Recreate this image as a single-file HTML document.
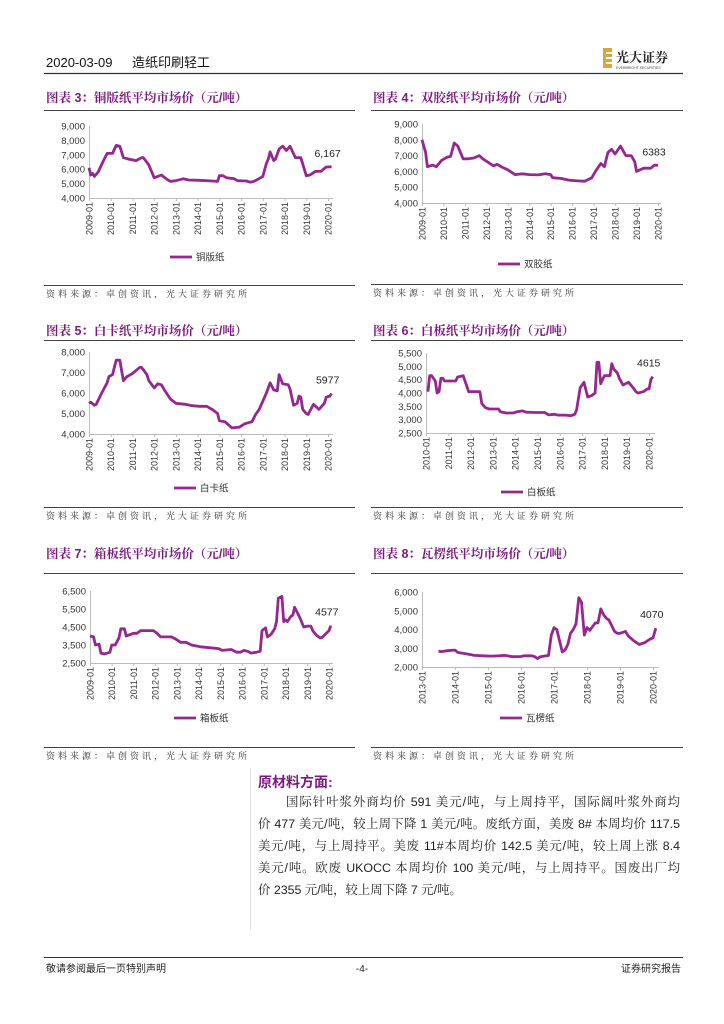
<!DOCTYPE html>
<html><head><meta charset="utf-8">
<style>
html,body{margin:0;padding:0;background:#fff;}
body{width:724px;height:1024px;position:relative;overflow:hidden;font-family:"Liberation Sans","Noto Sans CJK SC",sans-serif;}
svg{position:absolute;left:0;top:0;}
.para{position:absolute;left:258px;width:422px;font-size:12.4px;color:#222;font-family:"Liberation Sans","Noto Serif CJK SC",serif;}
.ln{height:22px;line-height:22px;text-align:justify;text-align-last:justify;white-space:nowrap;overflow:hidden;}
</style></head><body>
<svg id="pg" width="724" height="1024" viewBox="0 0 724 1024">
  <g>
    <text x="46" y="67" font-size="13" fill="#111">2020-03-09</text>
    <text x="132" y="67" font-size="13" fill="#111">造纸印刷轻工</text>
    <line x1="44" y1="73.5" x2="683" y2="73.5" stroke="#333" stroke-width="1.2"/>
    <g>
      <rect x="603" y="48" width="9" height="20" fill="#d9a63a"/>
      <rect x="606" y="52" width="7" height="2" fill="#fff"/><rect x="606" y="57" width="7" height="2" fill="#fff"/><rect x="606" y="62" width="7" height="2" fill="#fff"/>
      <text x="616" y="62" font-size="13" font-weight="bold" fill="#222" font-family="'Noto Serif CJK SC',serif">光大证券</text>
      <text x="616" y="69" font-size="3.5" fill="#444">EVERBRIGHT SECURITIES</text>
    </g>
  </g>
  <g id="charts"></g>
  <g><line x1="250.5" y1="768" x2="250.5" y2="930" stroke="#ddd" stroke-width="1"/></g>
  <text x="258" y="787" font-size="14" font-weight="bold" fill="#7b1a7e">原材料方面:</text>
  <g>
    <line x1="44" y1="957.5" x2="683" y2="957.5" stroke="#333" stroke-width="1"/>
    <text x="46" y="972" font-size="10" fill="#222">敬请参阅最后一页特别声明</text>
    <text x="362" y="972" font-size="10" fill="#222" text-anchor="middle">-4-</text>
    <text x="681" y="972" font-size="10" fill="#222" text-anchor="end">证券研究报告</text>
  </g>
</svg>
<div class="para" style="top:791px">
  <div class="ln" style="padding-left:28px">国际针叶浆外商均价 591 美元/吨，与上周持平，国际阔叶浆外商均</div>
  <div class="ln">价 477 美元/吨，较上周下降 1 美元/吨。废纸方面，美废 8# 本周均价 117.5</div>
  <div class="ln">美元/吨，与上周持平。美废 11#本周均价 142.5 美元/吨，较上周上涨 8.4</div>
  <div class="ln">美元/吨。欧废 UKOCC 本周均价 100 美元/吨，与上周持平。国废出厂均</div>
  <div class="ln" style="text-align-last:left">价 2355 元/吨，较上周下降 7 元/吨。</div>
</div>
<script>
// ---- data ----
const c3Dates=["2009-01","2009-02","2009-03","2009-04","2009-06","2009-09","2009-11","2010-02","2010-04","2010-06","2010-08","2010-11","2011-03","2011-06","2011-07","2011-10","2012-01","2012-05","2012-08","2012-10","2013-01","2013-05","2013-08","2014-02","2014-09","2014-12","2015-01","2015-03","2015-05","2015-09","2015-11","2016-04","2016-06","2016-08","2016-11","2017-01","2017-03","2017-04","2017-05","2017-07","2017-08","2017-10","2017-12","2018-02","2018-04","2018-07","2018-10","2019-01","2019-03","2019-06","2019-09","2019-12","2020-03"];
const c3Values=[6100,5600,5700,5500,5800,6600,7100,7100,7650,7600,6800,6700,6600,6800,6800,6300,5400,5600,5300,5150,5200,5330,5250,5230,5180,5150,5550,5550,5400,5350,5200,5180,5100,5150,5350,5500,6400,6700,7200,6600,6700,7400,7600,7300,7600,6800,6800,5550,5600,5850,5850,6150,6167];
const c3YTicks=[4000,5000,6000,7000,8000,9000];
const c3YLabels=["4,000","5,000","6,000","7,000","8,000","9,000"];
const c3XTicks=["2009-01","2010-01","2011-01","2012-01","2013-01","2014-01","2015-01","2016-01","2017-01","2018-01","2019-01","2020-01"];

const c4Dates=["2009-01","2009-03","2009-04","2009-07","2009-09","2009-12","2010-03","2010-05","2010-07","2010-09","2010-12","2011-03","2011-06","2011-09","2011-11","2012-03","2012-05","2012-07","2012-10","2013-01","2013-05","2013-09","2014-01","2014-06","2014-10","2015-01","2015-02","2015-07","2015-11","2016-04","2016-08","2016-12","2017-02","2017-05","2017-07","2017-09","2017-11","2018-01","2018-04","2018-07","2018-10","2018-12","2019-01","2019-05","2019-09","2019-11","2020-01"];
const c4Values=[8000,7200,6300,6400,6300,6700,6900,6950,7800,7600,6800,6800,6850,7000,6800,6500,6350,6450,6250,6100,5800,5850,5800,5780,5850,5800,5600,5550,5450,5400,5380,5600,6000,6500,6300,7200,7400,7100,7600,7000,7000,6600,6000,6200,6200,6400,6383];
const c4YTicks=[4000,5000,6000,7000,8000,9000];
const c4YLabels=["4,000","5,000","6,000","7,000","8,000","9,000"];
const c4XTicks=c3XTicks;

const c5Dates=["2009-01","2009-02","2009-04","2009-05","2009-08","2009-11","2009-12","2010-02","2010-04","2010-06","2010-08","2010-10","2011-01","2011-05","2011-06","2011-09","2011-10","2012-01","2012-03","2012-05","2012-07","2012-10","2013-01","2013-06","2013-10","2014-02","2014-06","2014-09","2014-12","2015-01","2015-04","2015-08","2015-12","2016-03","2016-07","2016-09","2016-11","2017-03","2017-05","2017-07","2017-09","2017-10","2017-12","2018-03","2018-04","2018-06","2018-08","2018-09","2018-10","2018-11","2019-01","2019-02","2019-05","2019-08","2019-11","2019-12","2020-02","2020-03"];
const c5Values=[5500,5550,5400,5450,6000,6500,6800,6900,7600,7600,6600,6800,6950,7250,7250,6900,6600,6250,6450,6400,6100,5700,5500,5450,5380,5350,5350,5200,5000,4650,4600,4300,4330,4500,4600,4950,5200,6000,6500,6150,6100,6900,6450,6400,6200,5400,5500,5850,5800,5200,5000,4950,5450,5200,5500,5800,5850,5977];
const c5YTicks=[4000,5000,6000,7000,8000];
const c5YLabels=["4,000","5,000","6,000","7,000","8,000"];
const c5XTicks=c3XTicks;

const c6Dates=["2010-02","2010-03","2010-04","2010-06","2010-07","2010-08","2010-09","2010-10","2010-11","2011-05","2011-06","2011-09","2011-12","2012-06","2012-07","2012-09","2012-11","2013-04","2013-05","2013-08","2013-12","2014-02","2014-05","2014-07","2014-12","2015-05","2015-07","2015-10","2015-12","2016-04","2016-07","2016-09","2016-10","2016-12","2017-02","2017-04","2017-06","2017-08","2017-09","2017-10","2017-11","2017-12","2018-01","2018-04","2018-05","2018-06","2018-08","2018-09","2018-11","2019-02","2019-05","2019-06","2019-07","2019-10","2019-12","2020-01","2020-02","2020-03"];
const c6Values=[4050,4650,4650,4450,4000,4050,4550,4550,4450,4450,4600,4650,4050,4050,3600,3450,3400,3400,3300,3250,3250,3300,3330,3280,3270,3270,3180,3200,3170,3170,3150,3200,3350,4200,4400,3850,3900,4000,5150,5150,4350,4500,4650,4650,5100,4900,4750,4550,4300,4400,4150,4050,4000,4050,4150,4150,4500,4615];
const c6YTicks=[2500,3000,3500,4000,4500,5000,5500];
const c6YLabels=["2,500","3,000","3,500","4,000","4,500","5,000","5,500"];
const c6XTicks=["2010-01","2011-01","2012-01","2013-01","2014-01","2015-01","2016-01","2017-01","2018-01","2019-01","2020-01"];

const c7Dates=["2009-01","2009-03","2009-04","2009-06","2009-07","2009-09","2009-12","2010-01","2010-03","2010-05","2010-06","2010-08","2010-09","2011-01","2011-03","2011-05","2011-12","2012-02","2012-04","2012-10","2012-12","2013-03","2013-06","2013-09","2014-02","2014-07","2014-12","2015-02","2015-07","2015-10","2015-12","2016-02","2016-04","2016-06","2016-09","2016-11","2016-12","2017-02","2017-03","2017-05","2017-07","2017-08","2017-09","2017-11","2017-12","2018-01","2018-02","2018-04","2018-05","2018-06","2018-08","2018-09","2018-11","2019-01","2019-03","2019-04","2019-06","2019-08","2019-09","2019-12","2020-01","2020-02"];
const c7Values=[4000,3950,3500,3550,3050,3000,3100,3500,3500,3900,4400,4400,4000,4150,4150,4300,4300,4150,3950,3950,3850,3650,3650,3500,3400,3350,3300,3200,3250,3100,3100,3200,3150,3050,3100,3150,4300,4450,3950,4100,4400,4800,6100,6200,4800,4900,4800,5100,5150,5600,5200,5000,4500,4550,4550,4300,4050,3900,3900,4200,4300,4577];
const c7YTicks=[2500,3500,4500,5500,6500];
const c7YLabels=["2,500","3,500","4,500","5,500","6,500"];
const c7XTicks=c3XTicks;

const c8Dates=["2013-07","2013-08","2013-10","2014-01","2014-02","2014-03","2014-06","2014-08","2014-11","2015-02","2015-05","2015-07","2015-08","2015-10","2016-01","2016-02","2016-05","2016-06","2016-07","2016-08","2016-11","2016-12","2017-01","2017-02","2017-04","2017-05","2017-06","2017-07","2017-08","2017-09","2017-10","2017-11","2017-12","2018-01","2018-02","2018-03","2018-04","2018-05","2018-06","2018-07","2018-08","2018-09","2018-11","2018-12","2019-01","2019-03","2019-04","2019-06","2019-08","2019-10","2019-12","2020-01","2020-02"];
const c8Values=[2850,2820,2870,2900,2780,2750,2680,2620,2600,2580,2600,2620,2600,2550,2560,2600,2600,2550,2450,2550,2620,3700,4100,4000,2800,2900,3200,3800,4000,4300,5700,5450,3700,4100,3950,4150,4350,4350,5100,4800,4600,4500,3900,3800,3800,3900,3650,3400,3200,3300,3500,3550,4070];
const c8YTicks=[2000,3000,4000,5000,6000];
const c8YLabels=["2,000","3,000","4,000","5,000","6,000"];
const c8XTicks=["2013-01","2014-01","2015-01","2016-01","2017-01","2018-01","2019-01","2020-01"];

const c3Title="图表 3：铜版纸平均市场价（元/吨）", c3Legend="铜版纸", c3EndLabel="6,167";
const c4Title="图表 4：双胶纸平均市场价（元/吨）", c4Legend="双胶纸", c4EndLabel="6383";
const c5Title="图表 5：白卡纸平均市场价（元/吨）", c5Legend="白卡纸", c5EndLabel="5977";
const c6Title="图表 6：白板纸平均市场价（元/吨）", c6Legend="白板纸", c6EndLabel="4615";
const c7Title="图表 7：箱板纸平均市场价（元/吨）", c7Legend="箱板纸", c7EndLabel="4577";
const c8Title="图表 8：瓦楞纸平均市场价（元/吨）", c8Legend="瓦楞纸", c8EndLabel="4070";

// ---- rendering ----
const NS="http://www.w3.org/2000/svg";
const root=document.getElementById('charts');
function mk(tag,attrs,parent,txt){const e=document.createElementNS(NS,tag);for(const k in attrs)e.setAttribute(k,attrs[k]);if(txt!==undefined)e.textContent=txt;parent.appendChild(e);return e;}
function mi(s){const p=s.split('-');return (+p[0])*12+(+p[1]-1);}
const PURPLE="#96278f";
function chart(cfg){
  const g=mk('g',{},root);
  
  
  const t=mk('text',{x:cfg.px0+2,y:cfg.titleY,'font-size':12.5,'font-weight':'bold',fill:'#7b1a7e','font-family':"'Liberation Sans','Noto Serif CJK SC',serif"},g,cfg.title);
  
  
  mk('line',{x1:cfg.px0,x2:cfg.px1,y1:cfg.ruleY+.5,y2:cfg.ruleY+.5,stroke:'#444','stroke-width':1},g);
  const m0=mi(cfg.xt[0]),m1=mi(cfg.xt[cfg.xt.length-1]);
  const X=d=>cfg.ax+(mi(d)-m0)/(m1-m0)*(cfg.ax1-cfg.ax);
  const yMin=cfg.yt[0],yMax=cfg.yt[cfg.yt.length-1];
  const Y=v=>cfg.yb-(v-yMin)/(yMax-yMin)*(cfg.yb-cfg.ytop);
  mk('line',{x1:cfg.ax+.5,x2:cfg.ax+.5,y1:cfg.ytop,y2:cfg.yb,stroke:'#bbb','stroke-width':1},g);
  mk('line',{x1:cfg.ax,x2:cfg.xEnd,y1:cfg.yb+.5,y2:cfg.yb+.5,stroke:'#bbb','stroke-width':1},g);
  cfg.yt.forEach((v,i)=>{
    const l=mk('text',{x:cfg.ax-4,y:Y(v)+3.5,'font-size':9.5,fill:'#333','text-anchor':'end'},g,cfg.yl[i]);
    
    
  });
  cfg.xt.forEach(d=>{
    const x=X(d);
    mk('line',{x1:x+.5,x2:x+.5,y1:cfg.yb,y2:cfg.yb+3,stroke:'#bbb'},g);
    const l=mk('text',{x:0,y:0,'font-size':9,fill:'#333','text-anchor':'end',transform:`translate(${x+3.5},${cfg.yb+4}) rotate(-90)`},g,d);
    
    
  });
  const pts=cfg.dates.map((d,i)=>X(d).toFixed(1)+','+Y(cfg.vals[i]).toFixed(1)).join(' ');
  const pl=mk('polyline',{points:pts,fill:'none',stroke:PURPLE,'stroke-width':2.8,'stroke-linejoin':'round'},g);
  
  
  const n=cfg.dates.length-1;
  const el=mk('text',{x:X(cfg.dates[n])-4,y:Y(cfg.vals[n])-10,'font-size':10.5,fill:'#222','text-anchor':'middle'},g,cfg.endLabel);
  
  
  const lg=mk('g',{},g);
  
  
  mk('line',{x1:cfg.legX,x2:cfg.legX+22,y1:cfg.legY,y2:cfg.legY,stroke:PURPLE,'stroke-width':2.8},lg);
  mk('text',{x:cfg.legX+26,y:cfg.legY+3.5,'font-size':9.5,fill:'#333'},lg,cfg.legend);
  mk('line',{x1:cfg.px0,x2:cfg.px1,y1:cfg.srcRule+.5,y2:cfg.srcRule+.5,stroke:'#444','stroke-width':1},g);
  const s=mk('text',{x:cfg.px0+2,y:cfg.srcRule+12,'font-size':9,fill:'#333','letter-spacing':'3','font-family':"'Liberation Sans','Noto Serif CJK SC',serif"},g,'资料来源：卓创资讯，光大证券研究所');
  
  
}
chart({name:'chart-coated-paper',title:c3Title,legend:c3Legend,endLabel:c3EndLabel,dates:c3Dates,vals:c3Values,yt:c3YTicks,yl:c3YLabels,xt:c3XTicks,
  px0:44,px1:355,titleY:102,ruleY:110,ax:89,ax1:328,xEnd:333,ytop:126,yb:198,legX:170,legY:257,srcRule:285});
chart({name:'chart-offset-paper',title:c4Title,legend:c4Legend,endLabel:c4EndLabel,dates:c4Dates,vals:c4Values,yt:c4YTicks,yl:c4YLabels,xt:c4XTicks,
  px0:371,px1:683,titleY:102,ruleY:110,ax:422,ax1:658,xEnd:661,ytop:124,yb:203,legX:498,legY:264,srcRule:284});
chart({name:'chart-white-card',title:c5Title,legend:c5Legend,endLabel:c5EndLabel,dates:c5Dates,vals:c5Values,yt:c5YTicks,yl:c5YLabels,xt:c5XTicks,
  px0:44,px1:355,titleY:335,ruleY:340,ax:89,ax1:328,xEnd:333,ytop:352,yb:434,legX:174,legY:488,srcRule:507});
chart({name:'chart-white-board',title:c6Title,legend:c6Legend,endLabel:c6EndLabel,dates:c6Dates,vals:c6Values,yt:c6YTicks,yl:c6YLabels,xt:c6XTicks,
  px0:371,px1:683,titleY:335,ruleY:340,ax:426,ax1:649,xEnd:655,ytop:353,yb:433,legX:501,legY:492,srcRule:507});
chart({name:'chart-container-board',title:c7Title,legend:c7Legend,endLabel:c7EndLabel,dates:c7Dates,vals:c7Values,yt:c7YTicks,yl:c7YLabels,xt:c7XTicks,
  px0:44,px1:355,titleY:558,ruleY:573,ax:90,ax1:329,xEnd:333,ytop:591,yb:663,legX:174,legY:718,srcRule:747});
chart({name:'chart-corrugated-paper',title:c8Title,legend:c8Legend,endLabel:c8EndLabel,dates:c8Dates,vals:c8Values,yt:c8YTicks,yl:c8YLabels,xt:c8XTicks,
  px0:371,px1:683,titleY:558,ruleY:573,ax:422,ax1:653,xEnd:659,ytop:592,yb:667,legX:500,legY:718,srcRule:747});
</script>
</body></html>
